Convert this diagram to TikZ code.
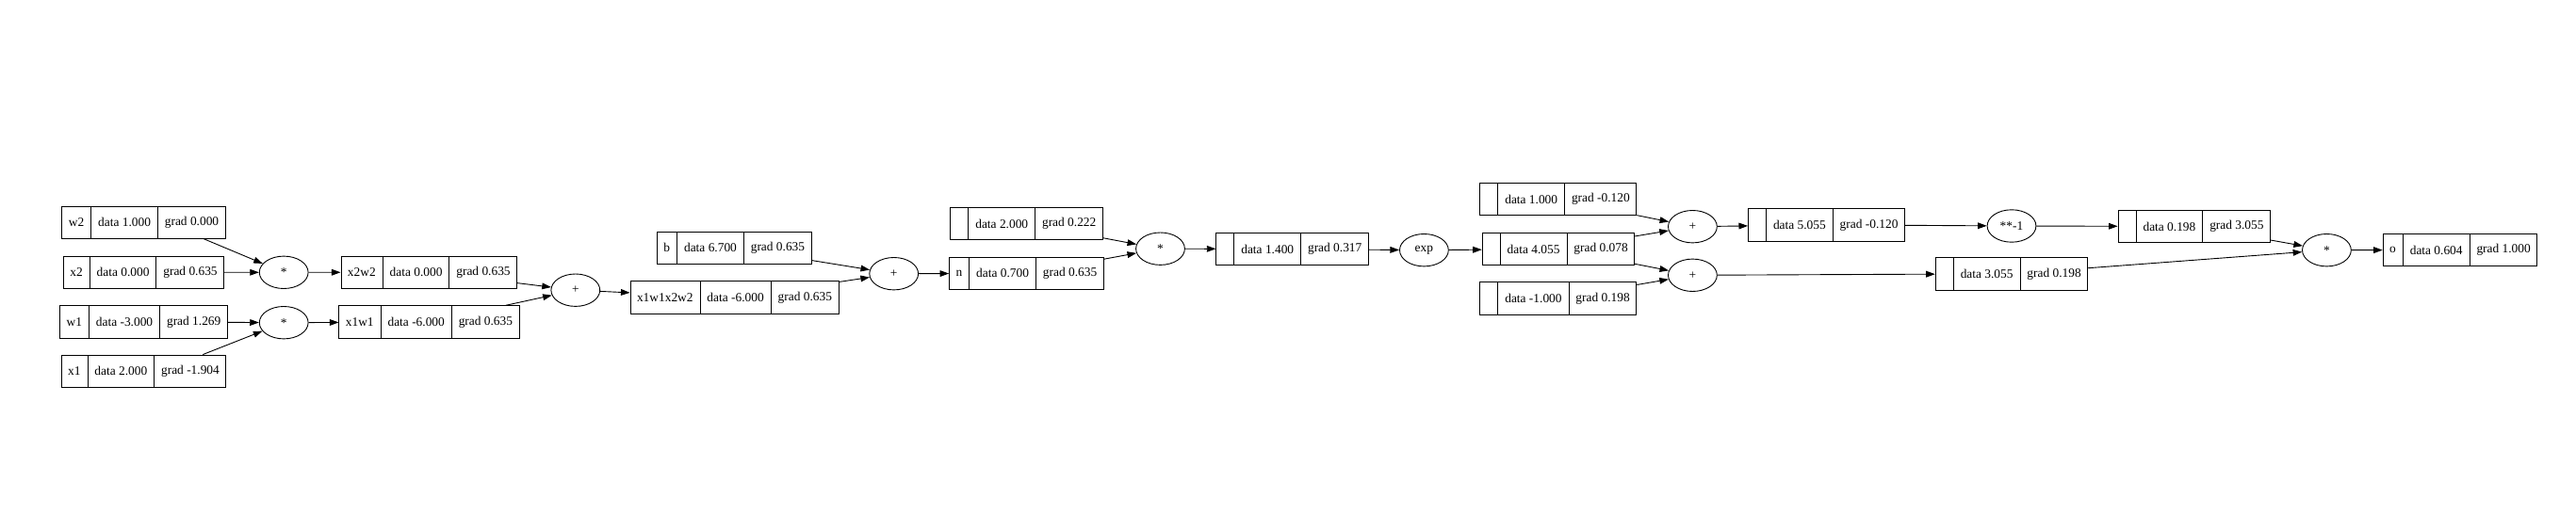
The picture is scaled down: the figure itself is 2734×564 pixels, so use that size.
\documentclass[tikz,border=0pt]{standalone}
\usepackage{fontspec}
\setmainfont{Liberation Serif}
\usetikzlibrary{shapes.multipart,shapes.geometric,arrows.meta}
\tikzset{
	val/.style={draw,line width=0.9pt,rectangle split,rectangle split horizontal,rectangle split parts=3,inner xsep=7pt,inner ysep=0pt,minimum height=34.4pt,font=\fontsize{13.4}{16}\selectfont},
	op/.style={draw,line width=0.9pt,ellipse,minimum width=51.8pt,minimum height=34.4pt,inner sep=0pt,font=\fontsize{13.4}{16}\selectfont},
	link/.style={line width=0.9pt,-{Triangle[length=9.6pt,width=6.7pt]}}
}
\newcommand{\nolab}{\hspace*{5pt}}
\begin{document}
\begin{tikzpicture}[x=1pt,y=-1pt]
		\useasboundingbox (0,0) rectangle (2734,564);
		\node[val] (w2) at (152.5,236.2) {w2\nodepart{two}data 1.000\nodepart{three}grad 0.000};
		\node[val] (x2) at (152.5,289.2) {x2\nodepart{two}data 0.000\nodepart{three}grad 0.635};
		\node[val] (w1) at (152.5,341.8) {w1\nodepart{two}data -3.000\nodepart{three}grad 1.269};
		\node[val] (x1) at (152.5,394.2) {x1\nodepart{two}data 2.000\nodepart{three}grad -1.904};
		\node[op] (mul1) at (301.2,289.3) {*};
		\node[op] (mul2) at (301.2,342.7) {*};
		\node[val] (x2w2) at (455.3,289.2) {x2w2\nodepart{two}data 0.000\nodepart{three}grad 0.635};
		\node[val] (x1w1) at (455.5,342) {x1w1\nodepart{two}data -6.000\nodepart{three}grad 0.635};
		\node[op] (add1) at (610.8,308.2) {+};
		\node[val] (b) at (779.3,263.3) {b\nodepart{two}data 6.700\nodepart{three}grad 0.635};
		\node[val] (x1w1x2w2) at (779.5,316) {x1w1x2w2\nodepart{two}data -6.000\nodepart{three}grad 0.635};
		\node[op] (add2) at (948.7,290.7) {+};
		\node[val] (two) at (1089.6,237.5) {\nolab\nodepart{two}data 2.000\nodepart{three}grad 0.222};
		\node[val] (n) at (1089.4,290.3) {n\nodepart{two}data 0.700\nodepart{three}grad 0.635};
		\node[op] (mul3) at (1231.5,264.2) {*};
		\node[val] (twon) at (1371.6,264.5) {\nolab\nodepart{two}data 1.400\nodepart{three}grad 0.317};
		\node[op] (exp) at (1511.4,265.7) {exp};
		\node[val] (one) at (1653.8,211.7) {\nolab\nodepart{two}data 1.000\nodepart{three}grad -0.120};
		\node[val] (e) at (1654,264.5) {\nolab\nodepart{two}data 4.055\nodepart{three}grad 0.078};
		\node[val] (mone) at (1653.8,316.8) {\nolab\nodepart{two}data -1.000\nodepart{three}grad 0.198};
		\node[op] (add3) at (1796.4,240.7) {+};
		\node[op] (add4) at (1796.4,292.3) {+};
		\node[val] (den) at (1938.5,238.8) {\nolab\nodepart{two}data 5.055\nodepart{three}grad -0.120};
		\node[op] (pow) at (2135,240) {**-1};
		\node[val] (num) at (2135,290.8) {\nolab\nodepart{two}data 3.055\nodepart{three}grad 0.198};
		\node[val] (inv) at (2328.8,240.5) {\nolab\nodepart{two}data 0.198\nodepart{three}grad 3.055};
		\node[op] (mul4) at (2469.4,265.7) {*};
		\node[val] (o) at (2611,265.5) {o\nodepart{two}data 0.604\nodepart{three}grad 1.000};
		
		\draw[link] ([xshift=-23pt]w2.south east)--(mul1);
		\draw[link] (x2)--(mul1);
		\draw[link] (w1)--(mul2);
		\draw[link] ([xshift=-25pt]x1.north east)--(mul2);
		\draw[link] (mul1)--(x2w2);
		\draw[link] (mul2)--(x1w1);
		\draw[link] (x2w2)--(add1);
		\draw[link] (x1w1)--(add1);
		\draw[link] (add1)--(x1w1x2w2);
		\draw[link] (b)--(add2);
		\draw[link] (x1w1x2w2)--(add2);
		\draw[link] (add2)--(n);
		\draw[link] (two)--(mul3);
		\draw[link] (n)--(mul3);
		\draw[link] (mul3)--(twon);
		\draw[link] (twon)--(exp);
		\draw[link] (exp)--(e);
		\draw[link] (one)--(add3);
		\draw[link] (e)--(add3);
		\draw[link] (e)--(add4);
		\draw[link] (mone)--(add4);
		\draw[link] (add3)--(den);
		\draw[link] (add4)--(num);
		\draw[link] (den)--(pow);
		\draw[link] (pow)--(inv);
		\draw[link] (inv)--(mul4);
		\draw[link] (num)--(mul4);
		\draw[link] (mul4)--(o);
	\end{tikzpicture}
\end{document}
